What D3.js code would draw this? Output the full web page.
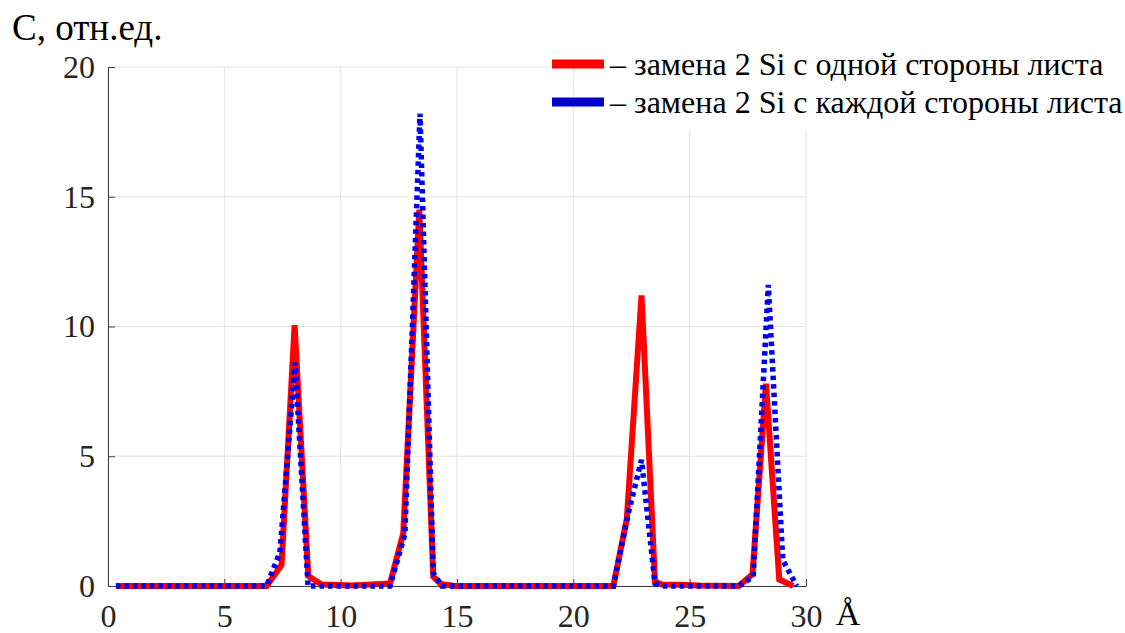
<!DOCTYPE html>
<html>
<head>
<meta charset="utf-8">
<script src="https://cdn.jsdelivr.net/npm/d3@7"></script>
<style>
  body { margin: 0; background: #fff; }
  svg text { font-family: 'Liberation Serif', 'DejaVu Serif', serif !important; }
</style>
</head>
<body>
<svg></svg>
<script>
// concentration profile along the sheet
var redX = [0.34, 6.82, 7.46, 8.02, 8.61, 9.18, 10.5, 11.3, 12.12, 12.69, 13.38, 13.98, 14.3, 14.9,
    21.72, 22.3, 22.93, 23.51, 23.8, 24.6, 25.4, 27.1, 27.7, 28.28, 28.85, 29.45]
var redY = [0, 0, 0.81, 10.05, 0.38, 0.06, 0.02, 0.06, 0.1, 2.03, 14.5, 0.36, 0.08, 0,
    0, 2.6, 11.2, 0.17, 0.06, 0.05, 0.02, 0, 0.45, 7.8, 0.25, 0]

var blueX = [0.34, 6.82, 7.39, 8.04, 8.6, 12.12, 12.76, 13.41, 13.98, 14.34,
    21.72, 22.36, 22.93, 23.51, 23.8, 27.1, 27.73, 28.38, 29.0, 29.6]
var blueY = [0, 0, 1.3, 8.6, 0, 0, 2.0, 18.2, 0.5, 0,
    0, 2.8, 4.86, 0.1, 0, 0, 0.36, 11.6, 1.0, 0]

var xTicks = [0, 5, 10, 15, 20, 25, 30]
var yTicks = [0, 5, 10, 15, 20]
var legendLabels = ["– замена 2 Si с одной стороны листа", "– замена 2 Si с каждой стороны листа"]
var legendColors = ["#ff0000", "#0000cc"]

var serif = "'Liberation Serif', 'DejaVu Serif', serif"

var margin = { top: 67, right: 319, bottom: 47, left: 108 },
    width = 1125 - margin.left - margin.right,
    height = 633 - margin.top - margin.bottom

var root = d3.select("svg")
    .attr("width", 1125)
    .attr("height", 633)
    .attr("font-family", serif)

var svg = root.append("g")
    .attr("transform", "translate(" + margin.left + "," + margin.top + ")")

var xScale = d3.scaleLinear().domain([0, 30]).range([0, width])
var yScale = d3.scaleLinear().domain([0, 20]).range([height, 0])

// grid
svg.append("g")
    .selectAll("line")
    .data(xTicks)
    .enter().append("line")
    .attr("x1", d => xScale(d)).attr("x2", d => xScale(d))
    .attr("y1", 0).attr("y2", height)
    .attr("stroke", "#e3e3e3")
svg.append("g")
    .selectAll("line")
    .data(yTicks)
    .enter().append("line")
    .attr("x1", 0).attr("x2", width)
    .attr("y1", d => yScale(d)).attr("y2", d => yScale(d))
    .attr("stroke", "#e3e3e3")

// axes, ticks inside like matlab
var xAxis = svg.append("g")
    .attr("transform", "translate(0," + height + ")")
    .call(d3.axisBottom(xScale).tickValues(xTicks).tickSizeInner(-7).tickSizeOuter(0).tickPadding(18))
var yAxis = svg.append("g")
    .call(d3.axisLeft(yScale).tickValues(yTicks).tickSizeInner(-7).tickSizeOuter(0).tickPadding(13))

svg.selectAll(".domain, .tick line").attr("stroke", "#404040")
svg.selectAll("g").attr("font-family", serif)
svg.selectAll(".tick text")
    .attr("fill", "#262626")
    .style("font-size", "32px")

var redData = redX.map((x, i) => ({ x: x, y: redY[i] }))
var blueData = blueX.map((x, i) => ({ x: x, y: blueY[i] }))

var line = d3.line()
    .x(d => xScale(d.x))
    .y(d => yScale(d.y))

svg.append("path")
    .datum(redData)
    .attr("d", line)
    .attr("fill", "none")
    .attr("stroke", "#ff0000")
    .attr("stroke-width", 6)

svg.append("path")
    .datum(blueData)
    .attr("d", line)
    .attr("fill", "none")
    .attr("stroke", "#0000f0")
    .attr("stroke-width", 5.5)
    .attr("stroke-dasharray", "4.5,4")

// axis names
root.append("text")
    .attr("x", 12)
    .attr("y", 40)
    .style("font-size", "37px")
    .text("С, отн.ед.")

root.append("text")
    .attr("x", 848)
    .attr("y", 625)
    .attr("text-anchor", "middle")
    .style("font-size", "34px")
    .text("Å")

// legend (white patch hides grid behind the text)
root.append("rect")
    .attr("x", 606).attr("y", 40)
    .attr("width", 519).attr("height", 90)
    .attr("fill", "#fff")

var legend = root.append("g")
legendLabels.forEach((label, i) => {
    var cy = 64 + i * 38
    legend.append("rect")
        .attr("x", 552).attr("y", cy - 4.5)
        .attr("width", 52).attr("height", 9)
        .attr("fill", legendColors[i])
    legend.append("text")
        .attr("x", 610)
        .attr("y", cy + 11)
        .style("font-size", "32px")
        .text(label)
})
</script>
</body>
</html>
